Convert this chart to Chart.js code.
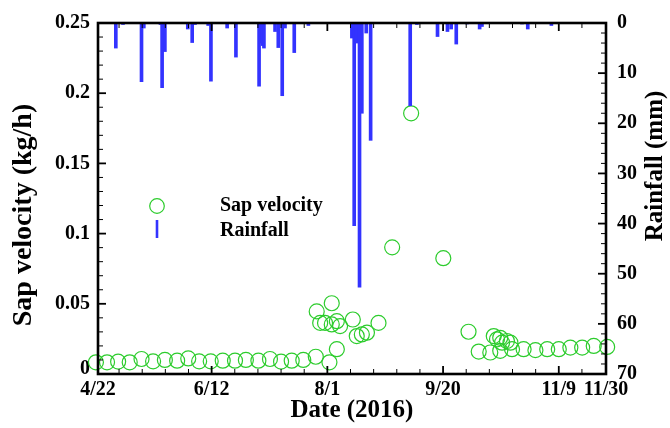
<!DOCTYPE html>
<html>
<head>
<meta charset="utf-8">
<script src="https://cdn.jsdelivr.net/npm/chart.js@4.4.1/dist/chart.umd.min.js"></script>
<style>
html,body{margin:0;padding:0;background:#fff;}
#wrap{width:670px;height:428px;}
</style>
</head>
<body>
<div id="wrap"><canvas id="c" width="670" height="428"></canvas></div>
<script>
// x values: days since 4/22/2016
const sapDays = [1, 5.8, 10.6, 15.6, 20.7, 25.7, 30.8, 36.1, 40.9, 45.6, 50.6, 55.8, 61.1, 65.8, 71.2, 76.2, 81, 85.6, 90.6, 96,
  96.4, 97.9, 100, 101.9, 102.9, 102.9, 105.1, 105.1, 106.5, 112, 113.7, 115.9, 118.1, 123.1, 129, 137.2, 151.1,
  162, 166.4, 171.4, 172.9, 174.3, 175.7, 175.7, 176.5, 178.6, 180.1, 180.8, 185.8, 190.9, 196, 201, 206, 211.1, 216.1, 221.9];
const sapValues = [0.0083, 0.0083, 0.0088, 0.0083, 0.0107, 0.009, 0.01, 0.0095, 0.0111, 0.009, 0.009, 0.0095, 0.0095, 0.01, 0.0095, 0.0107, 0.0088, 0.0095, 0.01, 0.0123,
  0.0446, 0.0364, 0.0364, 0.0083, 0.0504, 0.0353, 0.0376, 0.0177, 0.0341, 0.0388, 0.027, 0.0282, 0.0294, 0.0364, 0.0902, 0.1857, 0.0825,
  0.0301, 0.016, 0.0153, 0.027, 0.0247, 0.0258, 0.0165, 0.0223, 0.0235, 0.0223, 0.0177, 0.0177, 0.017, 0.0177, 0.0177, 0.0188, 0.0188, 0.02, 0.0193];

const rainDays = [9.6, 12.7, 20.7, 21.7, 28.9, 29.6, 30.8, 40.7, 42.6, 43.8, 49.5, 50.7, 57.7, 61.5, 71.5, 72.2, 73.1, 73.6, 78.4, 79.8,
  81.5, 82.7, 86.7, 92.8, 111.6, 112.6, 113.7, 114.9, 115.9, 117.8, 119.7, 136.8, 139.7, 148.6, 152.9, 154.5, 156.7, 161.3, 166.8, 167.8,
  185.1, 187.6, 197.8];
const rainValues = [5, 0.3, 11.7, 1, 0.3, 12.9, 5.7, 1.2, 3.9, 0.3, 0.5, 11.6, 1, 6.8, 12.6, 4, 4.5, 5, 1.7, 4.9,
  14.5, 1, 5.9, 0.5, 3, 40.4, 4, 52.7, 18, 2, 23.4, 16.5, 0.3, 2.7, 1.7, 1.2, 4.2, 0.2, 1.2, 0.7,
  0.2, 1.2, 0.5];

const xTickDays = [1.9, 51, 101, 151, 201, 221.4];
const xTickLabels = ['4/22', '6/12', '8/1', '9/20', '11/9', '11/30'];
const xMinorDays = [11, 21, 31, 41, 61, 71, 81, 91, 111, 121, 131, 141, 161, 171, 181, 191, 211];

const sapTitle = 'Sap velocity (kg/h)';
const rainTitle = 'Rainfall (mm)';
const xTitle = 'Date (2016)';

const FONT = '"Liberation Serif", "Times New Roman", serif';
Chart.defaults.font.family = FONT;
Chart.defaults.color = '#000';

const deco = {
  id: 'deco',
  afterDraw(chart) {
    const {ctx, chartArea: a, scales: {x, y, y2}} = chart;
    ctx.save();
    ctx.strokeStyle = '#000';
    ctx.lineCap = 'butt';
    const vt = (px, len, w) => {
      ctx.lineWidth = w;
      ctx.beginPath();
      ctx.moveTo(px, a.bottom); ctx.lineTo(px, a.bottom - len);
      ctx.moveTo(px, a.top); ctx.lineTo(px, a.top + len);
      ctx.stroke();
    };
    xMinorDays.forEach(d => vt(x.getPixelForValue(d), 5, 1));
    xTickDays.slice(1, -1).forEach(d => vt(x.getPixelForValue(d), 8, 1.8));
    // left ticks
    for (let i = 0; i <= 25; i++) {
      const py = y.getPixelForValue(i * 0.01);
      const major = i % 5 === 0;
      ctx.lineWidth = major ? 1.8 : 1;
      ctx.beginPath(); ctx.moveTo(a.left, py); ctx.lineTo(a.left + (major ? 8 : 5), py); ctx.stroke();
    }
    // right ticks
    for (let mm = 0; mm <= 70; mm += 2) {
      const py = y2.getPixelForValue(mm);
      const major = mm % 10 === 0;
      ctx.lineWidth = major ? 1.8 : 1;
      ctx.beginPath(); ctx.moveTo(a.right, py); ctx.lineTo(a.right - (major ? 8 : 5), py); ctx.stroke();
    }
    ctx.lineWidth = 2.6;
    ctx.strokeRect(a.left, a.top, a.right - a.left, a.bottom - a.top);

    // axis titles
    ctx.fillStyle = '#000';
    ctx.textAlign = 'center';
    ctx.textBaseline = 'middle';
    ctx.font = 'bold 28px ' + FONT;
    ctx.save(); ctx.translate(24, 215); ctx.rotate(-Math.PI / 2); ctx.fillText(sapTitle, 0, 0); ctx.restore();
    ctx.font = 'bold 25px ' + FONT;
    ctx.save(); ctx.translate(656, 166); ctx.rotate(-Math.PI / 2); ctx.fillText(rainTitle, 0, 0); ctx.restore();

    // legend
    const ds = chart.data.datasets;
    ctx.strokeStyle = ds[0].borderColor;
    ctx.lineWidth = 1.2;
    ctx.beginPath(); ctx.arc(157, 206, 7.3, 0, Math.PI * 2); ctx.stroke();
    ctx.strokeStyle = ds[1].backgroundColor;
    ctx.lineWidth = 2.6;
    ctx.beginPath(); ctx.moveTo(157, 220); ctx.lineTo(157, 238); ctx.stroke();
    ctx.font = 'bold 20px ' + FONT;
    ctx.textAlign = 'left';
    ctx.fillText(ds[0].label, 220, 206);
    ctx.fillText(ds[1].label, 220, 231);
    ctx.restore();
  }
};

new Chart(document.getElementById('c'), {
  type: 'bar',
  data: {
    datasets: [
      {
        type: 'scatter',
        label: 'Sap velocity',
        data: sapDays.map((d, i) => ({x: d, y: sapValues[i]})),
        xAxisID: 'x', yAxisID: 'y',
        pointStyle: 'circle',
        pointRadius: 7.5,
        pointHoverRadius: 7.5,
        borderColor: '#2ccc2c',
        backgroundColor: 'rgba(0,0,0,0)',
        borderWidth: 1.2,
        showLine: false,
        clip: false,
        order: 2
      },
      {
        type: 'bar',
        label: 'Rainfall',
        data: rainDays.map((d, i) => ({x: d, y: rainValues[i]})),
        xAxisID: 'x', yAxisID: 'y2',
        backgroundColor: '#3333ff',
        borderWidth: 0,
        barThickness: 3,
        order: 1
      }
    ]
  },
  options: {
    responsive: false,
    animation: false,
    layout: {padding: {top: 18, left: 0, right: 0, bottom: 0}},
    plugins: {legend: {display: false}, tooltip: {enabled: false}},
    scales: {
      x: {
        type: 'linear', position: 'bottom',
        min: xTickDays[0], max: xTickDays[xTickDays.length - 1],
        offset: false,
        grid: {display: false, drawTicks: false, offset: false},
        border: {display: false},
        afterBuildTicks: s => { s.ticks = xTickDays.map(v => ({value: v})); },
        ticks: {
          autoSkip: false, maxRotation: 0, minRotation: 0, padding: 4,
          color: '#000', font: {size: 20, weight: 'bold'},
          callback: (v, i) => xTickLabels[i]
        },
        title: {display: true, text: xTitle, color: '#000', font: {size: 25, weight: 'bold'}, padding: {top: 0, bottom: 2}},
        afterFit: s => { s.height = 54; }
      },
      y: {
        type: 'linear', position: 'left', min: 0, max: 0.25,
        grid: {display: false, drawTicks: false},
        border: {display: false},
        ticks: {
          stepSize: 0.05, padding: 8, color: '#000',
          font: c => (c.tick && c.tick.value === 0) ? {size: 20, weight: 'bold', lineHeight: 0.55} : {size: 20, weight: 'bold'},
          callback: v => (+v === 0) ? ['0', ''] : String(+(+v).toFixed(2))
        },
        afterFit: s => { s.width = 98; }
      },
      y2: {
        type: 'linear', position: 'right', min: 0, max: 70, reverse: true,
        grid: {display: false, drawTicks: false},
        border: {display: false},
        ticks: {stepSize: 10, padding: 11, color: '#000', font: {size: 20, weight: 'bold'}},
        afterFit: s => { s.width = 64; }
      }
    }
  },
  plugins: [deco]
});
</script>
</body>
</html>
